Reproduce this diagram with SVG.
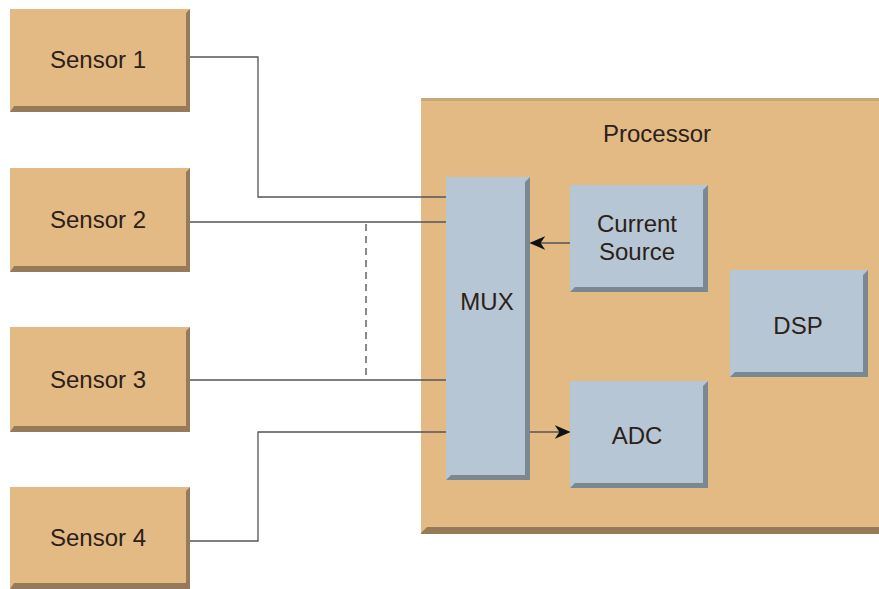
<svg xmlns="http://www.w3.org/2000/svg" width="879" height="589" viewBox="0 0 879 589">
<defs>
<style>
.org{fill:#e3b984}
.orgd{fill:#957b5a}
.blu{fill:#b7c6d5}
.blud{fill:#7b8791}
text{font-family:"Liberation Sans",Arial,sans-serif;font-size:24px;text-anchor:middle;fill:#2b2118}
.wire{fill:none;stroke:#555;stroke-width:1.3}
</style>
<marker id="ah" viewBox="0 0 10 10" refX="9" refY="5" markerWidth="16" markerHeight="14" markerUnits="userSpaceOnUse" orient="auto" preserveAspectRatio="none"><path d="M0,0 L10,5 L0,10 L3,5 Z" fill="#111"/></marker>
</defs>
<rect width="879" height="589" fill="#ffffff"/>

<g id="processor">
<rect class="orgd" x="421" y="98" width="458" height="436"/>
<polygon class="org" points="421,98 879,98 879,527 427,527 421,533"/>
<rect x="421" y="98" width="458" height="3" fill="#c9a77a"/>
<text x="657" y="142">Processor</text>
</g>

<g id="sensor1">
<rect class="orgd" x="10" y="9" width="180" height="103"/>
<polygon class="org" points="10,9 190,9 186,13 186,106 14,106 10,112"/>
<text x="98" y="68">Sensor 1</text>
</g>
<g id="sensor2">
<rect class="orgd" x="10" y="168" width="180" height="104"/>
<polygon class="org" points="10,168 190,168 186,172 186,266 14,266 10,272"/>
<text x="98" y="228">Sensor 2</text>
</g>
<g id="sensor3">
<rect class="orgd" x="10" y="327" width="180" height="105"/>
<polygon class="org" points="10,327 190,327 186,331 186,426 14,426 10,432"/>
<text x="98" y="388">Sensor 3</text>
</g>
<g id="sensor4">
<rect class="orgd" x="10" y="487" width="180" height="102"/>
<polygon class="org" points="10,487 190,487 186,491 186,583 14,583 10,589"/>
<text x="98" y="546">Sensor 4</text>
</g>

<g id="mux">
<rect class="blud" x="446" y="177" width="84" height="303"/>
<polygon class="blu" points="446,177 530,177 525,182 525,475 451,475 446,480"/>
<text x="487" y="310">MUX</text>
</g>
<g id="current-source">
<rect class="blud" x="570" y="185" width="138" height="107"/>
<polygon class="blu" points="570,185 708,185 703,190 703,287 575,287 570,292"/>
<text x="637" y="232">Current</text>
<text x="637" y="260">Source</text>
</g>
<g id="dsp">
<rect class="blud" x="730" y="270" width="138" height="107"/>
<polygon class="blu" points="730,270 868,270 863,275 863,372 735,372 730,377"/>
<text x="798" y="334">DSP</text>
</g>
<g id="adc">
<rect class="blud" x="570" y="381" width="138" height="107"/>
<polygon class="blu" points="570,381 708,381 703,386 703,483 575,483 570,488"/>
<text x="637" y="444">ADC</text>
</g>

<g id="connectors">
<polyline class="wire" points="190,57 258,57 258,197 446,197"/>
<line class="wire" x1="190" y1="222" x2="446" y2="222"/>
<line class="wire" x1="190" y1="380" x2="446" y2="380"/>
<polyline class="wire" points="190,541 258,541 258,432 446,432"/>
<line x1="366" y1="224" x2="366" y2="376" stroke="#666" stroke-width="1.5" stroke-dasharray="7,5"/>
<line class="wire" x1="570" y1="243" x2="531" y2="243" marker-end="url(#ah)"/>
<line class="wire" x1="530" y1="432" x2="569" y2="432" marker-end="url(#ah)"/>
</g>
</svg>
